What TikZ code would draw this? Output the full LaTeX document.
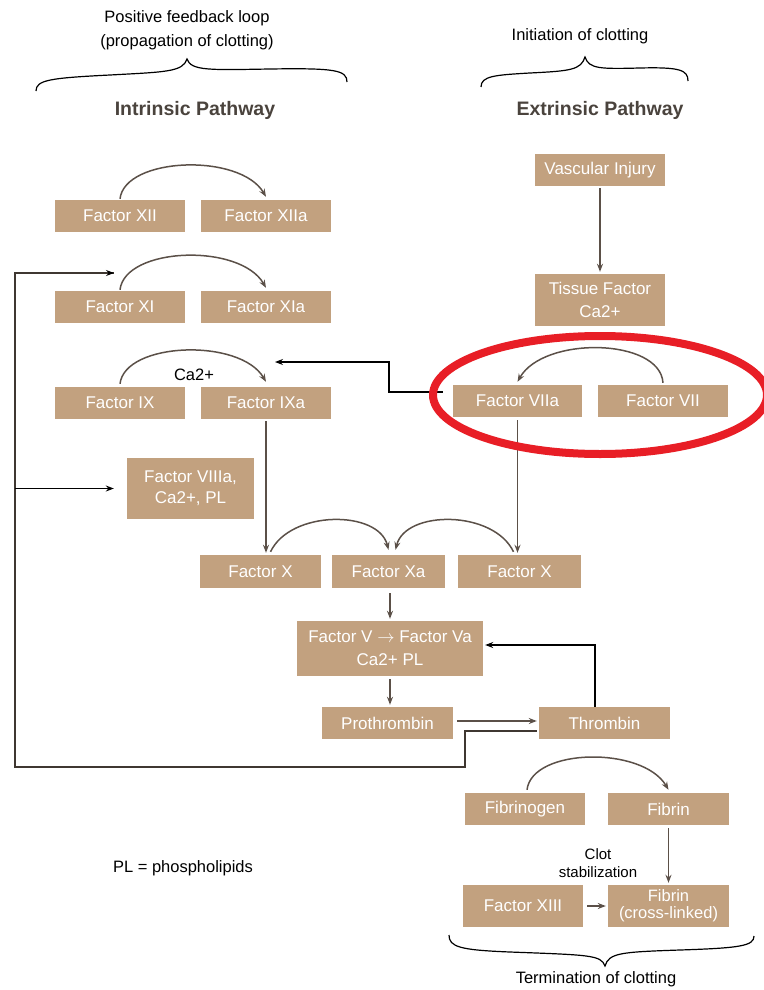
\documentclass[tikz,border=0pt]{standalone}
\usepackage{fontspec}
\setmainfont{Liberation Sans}
\usetikzlibrary{arrows.meta}
\definecolor{boxfill}{HTML}{C2A17F}
\definecolor{linec}{HTML}{5B5048}
\definecolor{titlec}{HTML}{4A433D}
\definecolor{redc}{HTML}{E81E26}
\definecolor{fbc}{HTML}{3F3731}
\begin{document}
\begin{tikzpicture}[x=1pt,y=-1pt,
 fbox/.style={fill=boxfill, text=white, font=\fontsize{17}{21}\selectfont, align=center, inner sep=0pt, minimum width=130pt, minimum height=32pt},
 arr/.style={draw=linec, line width=1.5pt, -{Stealth[length=8pt,width=6pt]}},
 blk/.style={draw=black, line width=1.1pt, -{Stealth[length=8pt,width=6pt]}},
 fb/.style={draw=fbc, line width=1.3pt},
 lbl/.style={text=black, font=\fontsize{16.5}{24}\selectfont, align=center},
 ttl/.style={text=titlec, font=\bfseries\fontsize{19.5}{22}\selectfont},
 brc/.style={draw=black, line width=1.2pt}
]
\useasboundingbox (0,0) rectangle (763,990);

% titles
\node[lbl] (pfl) at (187,30) {Positive feedback loop\\(propagation of clotting)};
\node[lbl] (ini) at (580,36) {Initiation of clotting};
\node[ttl] (intr) at (195,110) {Intrinsic Pathway};
\node[ttl] (extr) at (600,110) {Extrinsic Pathway};
\node[lbl] (term) at (596,979) {Termination of clotting};

% braces
\draw[brc] (36,91) .. controls (36,80) and (50,78) .. (110,75) .. controls (165,72) and (183,72) .. (187,59) .. controls (191,71) and (210,70) .. (270,69) .. controls (335,68) and (347,70) .. (347,82);
\draw[brc] (481,87) .. controls (481,76) and (495,75) .. (530,73) .. controls (570,71) and (581,70) .. (585,57) .. controls (589,69) and (600,69) .. (640,68) .. controls (680,67) and (688,70) .. (688,81);
\draw[brc] (449,935) .. controls (449,947) and (460,950) .. (510,952) .. controls (590,955) and (601,955) .. (605,966) .. controls (609,953) and (620,952) .. (680,950) .. controls (740,948) and (754,946) .. (754,936);

% boxes
\node[fbox] (vi) at (600,170) {Vascular Injury};
\node[fbox, minimum height=52pt, font=\fontsize{17}{23}\selectfont] (tf) at (600,300) {Tissue Factor\\Ca2+};
\node[fbox] (f12) at (120,216) {Factor XII};
\node[fbox] (f12a) at (266,216) {Factor XIIa};
\node[fbox] (f11) at (120,307) {Factor XI};
\node[fbox] (f11a) at (266,307) {Factor XIa};
\node[fbox] (f9) at (120,403) {Factor IX};
\node[fbox] (f9a) at (266,403) {Factor IXa};
\node[fbox, minimum width=129pt] (f7a) at (517.5,401) {Factor VIIa};
\node[fbox] (f7) at (663,401) {Factor VII};
\node[fbox, minimum width=127pt, minimum height=61pt] (f8) at (190.5,488.5) {Factor VIIIa,\\Ca2+, PL};
\node[fbox, minimum width=121pt, minimum height=33pt] (fxl) at (260.5,571.5) {Factor X};
\node[fbox, minimum width=113pt, minimum height=33pt] (fxa) at (388.5,571.5) {Factor Xa};
\node[fbox, minimum width=123pt, minimum height=33pt] (fxr) at (519.5,571.5) {Factor X};
\node[fbox, minimum width=186pt, minimum height=55pt, font=\fontsize{17}{23}\selectfont] (fv) at (390,648.5) {Factor V $\rightarrow$ Factor Va\\Ca2+ PL};
\node[fbox, minimum width=131pt] (pro) at (387.5,723) {Prothrombin};
\node[fbox, minimum width=131pt] (thr) at (604.5,723) {Thrombin};
\node[fbox, minimum width=120pt] (fbg) at (525,809) {Fibrinogen};
\node[fbox, minimum width=121pt] (fib) at (668.5,809) {Fibrin};
\node[fbox, minimum width=120pt, minimum height=42pt] (f13) at (523,906) {Factor XIII};
\node[fbox, minimum width=121pt, minimum height=42pt, font=\fontsize{16.5}{17}\selectfont] (fcl) at (668.5,906) {Fibrin\\(cross-linked)};

% labels
\node[lbl] (ca) at (194,375) {Ca2+};
\node[lbl, font=\fontsize{15}{18}\selectfont] (clot) at (598,863) {Clot\\stabilization};
\node[lbl] (pl) at (183,868) {PL = phospholipids};

% coordinates
\coordinate (fbA) at (465,767);
\coordinate (fbB) at (15,767);
\coordinate (fbT) at (114,273);
\coordinate (k1) at (389,362);
\coordinate (ixT) at (275,362);

% straight connectors
\draw[arr, shorten <=2pt, shorten >=2pt] (vi) -- (tf);
\draw[arr, shorten <=2pt, shorten >=2pt] (f9a.south) -- (f9a.south |- fxl.north);
\draw[arr, shorten <=3pt, shorten >=2pt] (f7a.south) -- (f7a.south |- fxr.north);
\draw[arr, shorten <=5pt, shorten >=2pt] (fv.north |- fxa.south) -- (fv.north);
\draw[arr, shorten <=3pt, shorten >=2pt] (fv.south) -- (fv.south |- pro.north);
\draw[arr, shorten <=4pt, shorten >=2pt] ([yshift=2pt]pro.east) -- ([yshift=2pt]thr.west);
\draw[arr, shorten <=3pt, shorten >=2pt] (fib.south) -- (fcl.north);
\draw[arr, shorten <=4pt, shorten >=2pt] (f13) -- (fcl);

% arcs
\draw[arr] ([yshift=1pt]f12.north) .. controls +(5,-42) and +(-26,-44) .. ([yshift=3pt]f12a.north);
\draw[arr] ([yshift=1pt]f11.north) .. controls +(5,-43) and +(-26,-45) .. ([yshift=3pt]f11a.north);
\draw[arr] ([yshift=3pt]f9.north) .. controls +(5,-42) and +(-26,-44) .. ([yshift=5pt]f9a.north);
\draw[arr] ([yshift=2pt]f7.north) .. controls +(-3,-45) and +(26,-46) .. ([yshift=3pt]f7a.north);
\draw[arr] ([xshift=10pt,yshift=3pt]fxl.north) .. controls +(20,-42) and +(-10,-40) .. ([yshift=5pt]fxa.north);
\draw[arr] ([xshift=-6pt,yshift=3pt]fxr.north) .. controls +(-20,-42) and +(10,-40) .. ([xshift=7pt,yshift=5pt]fxa.north);
\draw[arr] ([xshift=2pt,yshift=3pt]fbg.north) .. controls +(5,-42) and +(-26,-44) .. ([yshift=3pt]fib.north);

% feedback and side connectors
\draw[fb] ([xshift=-2pt,yshift=-8pt]thr.west) -| (fbA) -- (fbB) |- (fbT);
\draw[blk] ([xshift=-3pt]fbT) -- (fbT);
\draw[blk] (fbB |- f8.west) -- ([xshift=-13pt]f8.west);
\draw[blk] ([xshift=-10pt]f7a.west |- 0,392) -| (k1) -- (ixT);
\draw[blk, shorten >=2pt] ([xshift=-9.5pt]thr.north) |- ([yshift=3.5pt]fv.east);

% red ellipse
\draw[redc, line width=8pt] (600,395) ellipse [x radius=167, y radius=59];
\end{tikzpicture}
\end{document}
